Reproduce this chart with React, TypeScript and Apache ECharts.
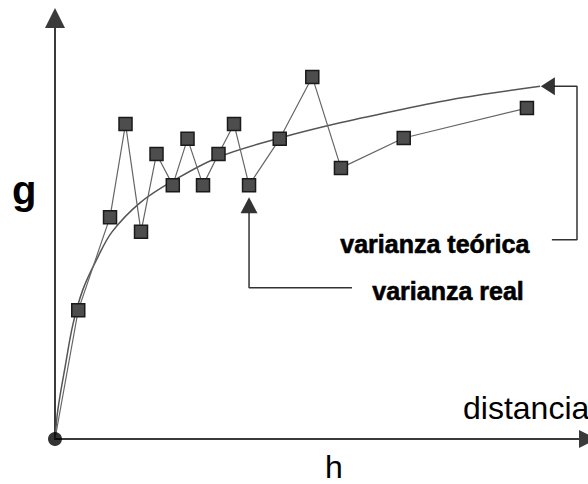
import React, { useEffect, useRef } from "react";
import * as echarts from "echarts";

// lag h (distance units) and semivariance g (percent of axis height)
const realH = [0, 1.5, 3.55, 4.55, 5.55, 6.55, 7.6, 8.55, 9.55, 10.55, 11.55, 12.52, 14.5, 16.6, 18.45, 22.5, 30.45];
const realG = [0, 30.6, 52.7, 74.8, 49.2, 67.7, 60.3, 71.3, 60.3, 67.7, 74.8, 60.3, 71.3, 86.0, 64.4, 71.5, 78.6];

const theoH = [0, 0.19, 0.65, 1.16, 1.81, 2.71, 3.68, 5.48, 7.61, 10.58, 14.52, 18.39, 22.52, 26.13, 31.3];
const theoG = [0, 7.1, 17.1, 27.3, 35.6, 42.8, 49.2, 56.1, 61.3, 67.0, 71.5, 75.1, 78.4, 81.0, 83.8];

// annotation leader lines (data coordinates)
const teoBracketH = [32.2, 33.68, 33.68, 32.06];
const teoBracketG = [83.8, 83.8, 47.3, 47.3];
const realBracketH = [12.52, 12.52, 19.16];
const realBracketG = [53.7, 35.9, 35.9];

const labelTeo = "varianza teórica";
const labelReal = "varianza real";
const xName = "distancia";
const xSymbol = "h";
const ySymbol = "g";

const zip = (a: number[], b: number[]) => a.map((v, i) => [v, b[i]]);

export default function App() {
  const ref = useRef<HTMLDivElement>(null);
  useEffect(() => {
    if (!ref.current) return;
    const chart = echarts.init(ref.current, undefined, { renderer: "svg" });
    const axisColor = "#3a3a3a";
    const realData = zip(realH, realG).map((p, i) =>
      i === 0 ? { value: p, symbol: "none" } : { value: p }
    );
    const boldFont = "bold 25px 'Liberation Sans', Arial, sans-serif";
    chart.setOption({
      animation: false,
      backgroundColor: "#fff",
      grid: { left: 55, right: 0, top: 18, bottom: 45, containLabel: false },
      xAxis: {
        type: "value",
        min: 0,
        max: 34.39,
        axisLine: {
          show: true,
          onZero: false,
          symbol: ["none", "triangle"],
          symbolSize: [18, 18],
          lineStyle: { color: axisColor, width: 2 },
        },
        axisTick: { show: false },
        axisLabel: { show: false },
        splitLine: { show: false },
      },
      yAxis: {
        type: "value",
        min: 0,
        max: 100,
        axisLine: {
          show: true,
          onZero: false,
          symbol: ["none", "triangle"],
          symbolSize: [20, 20],
          lineStyle: { color: axisColor, width: 2 },
        },
        axisTick: { show: false },
        axisLabel: { show: false },
        splitLine: { show: false },
      },
      series: [
        {
          type: "line",
          data: zip(theoH, theoG),
          smooth: 0.35,
          symbol: "none",
          lineStyle: { color: "#555", width: 1.5 },
          z: 2,
        },
        {
          type: "scatter",
          data: [[31.8, 83.8]],
          symbol: "triangle",
          symbolRotate: 90,
          symbolSize: [18, 14],
          itemStyle: { color: "#000" },
          z: 3,
        },
        {
          type: "line",
          data: zip(teoBracketH, teoBracketG),
          symbol: "none",
          lineStyle: { color: "#333", width: 1.5 },
          z: 2,
        },
        {
          type: "line",
          data: zip(realBracketH, realBracketG),
          symbol: "none",
          lineStyle: { color: "#333", width: 1.5 },
          z: 2,
        },
        {
          type: "scatter",
          data: [[12.52, 55.5]],
          symbol: "triangle",
          symbolSize: [17, 16],
          itemStyle: { color: "#000" },
          z: 3,
        },
        {
          type: "line",
          data: realData,
          symbol: "rect",
          symbolSize: 13,
          showSymbol: true,
          itemStyle: { color: "#4d4d4d", borderColor: "#1a1a1a", borderWidth: 1.5 },
          lineStyle: { color: "#666", width: 1.2 },
          z: 4,
        },
        {
          type: "scatter",
          data: [[0, 0]],
          symbol: "circle",
          symbolSize: 14,
          itemStyle: { color: "#000" },
          z: 5,
        },
      ],
      graphic: [
        {
          type: "text",
          left: 340,
          top: 231,
          style: { text: labelTeo, font: boldFont, fill: "#000", stroke: "#000", lineWidth: 0.6 },
        },
        {
          type: "text",
          left: 372,
          top: 278,
          style: { text: labelReal, font: boldFont, fill: "#000", stroke: "#000", lineWidth: 0.6 },
        },
        {
          type: "text",
          left: 12,
          top: 170,
          style: {
            text: ySymbol,
            font: "bold 40px 'Liberation Sans', Arial, sans-serif",
            fill: "#000",
          },
        },
        {
          type: "text",
          left: 463,
          top: 392,
          style: {
            text: xName,
            font: "32px 'Liberation Sans', Arial, sans-serif",
            fill: "#000",
          },
        },
        {
          type: "text",
          left: 325,
          top: 451,
          style: {
            text: xSymbol,
            font: "32px 'Liberation Sans', Arial, sans-serif",
            fill: "#000",
          },
        },
      ],
    });
    return () => chart.dispose();
  }, []);
  return (
    <div
      ref={ref}
      style={{ position: "fixed", left: 0, top: 0, width: 588, height: 484, background: "#fff" }}
    />
  );
}
